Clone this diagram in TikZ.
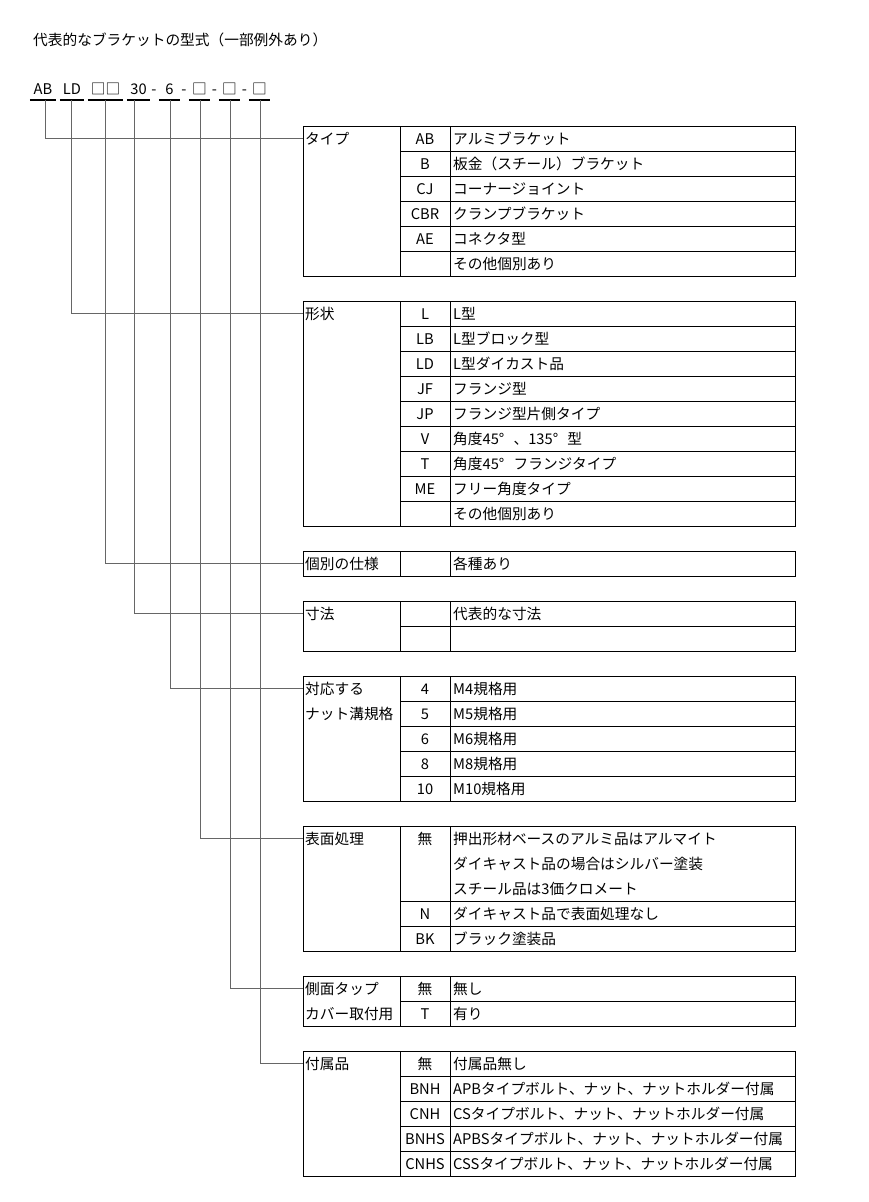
\documentclass[tikz,border=0pt]{standalone}
\usepackage{fontspec}
\setmainfont{Noto Sans CJK JP}
\newcommand{\jpsize}{\fontsize{14.7}{18}\selectfont}
\newcommand{\degw}{\makebox[1em][l]{°}}
\tikzset{
  tbl/.style={line width=1pt},
  conn/.style={draw=black!60, line width=1pt},
  uline/.style={line width=2pt},
  cellbase/.style={inner ysep=0pt, text height=13pt, text depth=2pt, font=\jpsize},
  headcell/.style={cellbase, anchor=west, inner xsep=2pt},
  codecell/.style={cellbase, anchor=center, inner xsep=0pt},
  desccell/.style={cellbase, anchor=west, inner xsep=3pt},
  codepart/.style={cellbase, inner xsep=0pt, inner ysep=4pt}
}
%% outer box, the two column rules and the header node of one table
\newcommand{\tablebox}[4]{% name, top, rows, header
  \draw[tbl] (303,#2) rectangle (795,#2+25*#3);
  \draw[tbl] (400,#2) -- (400,#2+25*#3)
             (450,#2) -- (450,#2+25*#3);
  \node[headcell] (#1) at (303,#2+12.5) {#4};
}
%% one row per code/description pair, with a rule above every row but the first
\newcommand{\tablerows}[3]{% name, top, list
  \foreach \kcode/\kdesc [count=\r from 0] in {#3} {
    \node[codecell] (#1c\r) at (425,#2+12.5+25*\r) {\kcode};
    \node[desccell] (#1d\r) at (450,#2+12.5+25*\r) {\kdesc};
    \ifnum\r>0 \draw[tbl] (400,#2+25*\r) -- (795,#2+25*\r); \fi
  }
}
\begin{document}
\begin{tikzpicture}[x=1pt, y=-1pt]
  \useasboundingbox (0,0) rectangle (868,1202);

  \node[anchor=base west, inner sep=0pt, font=\jpsize] (title) at (33,45)
    {代表的なブラケットの型式（一部例外あり）};

  %% the model code, each part underlined
  \node[codepart, minimum width=26pt] (p1) at (43,88.5) {AB};
  \node[codepart, minimum width=24pt] (p2) at (72,88.5) {LD};
  \node[codepart, minimum width=35pt] (p3) at (105.5,88.5) {□□};
  \node[codepart, minimum width=23pt] (p4) at (138.5,88.5) {30};
  \node[codepart, minimum width=21pt] (p5) at (169.5,88.5) {6};
  \node[codepart, minimum width=21pt] (p6) at (199.5,88.5) {□};
  \node[codepart, minimum width=21pt] (p7) at (229.5,88.5) {□};
  \node[codepart, minimum width=21pt] (p8) at (259.5,88.5) {□};
  \node[codecell] (m1) at (154,88.5) {-};
  \node[codecell] (m2) at (184,88.5) {-};
  \node[codecell] (m3) at (214.5,88.5) {-};
  \node[codecell] (m4) at (244.5,88.5) {-};
  \foreach \n in {1,...,8}
    \draw[uline] (p\n.south west) -- (p\n.south east);

  \coordinate (d1) at ([xshift=2.7pt]p1.south);
  \coordinate (d2) at ([xshift=-1pt]p2.south);
  \coordinate (d3) at (p3.south);
  \coordinate (d4) at ([xshift=-4.2pt]p4.south);
  \coordinate (d5) at ([xshift=0.8pt]p5.south);
  \coordinate (d6) at ([xshift=0.8pt]p6.south);
  \coordinate (d7) at ([xshift=0.8pt]p7.south);
  \coordinate (d8) at ([xshift=0.5pt]p8.south);

  %% tables
  \tablebox{tType}{126}{6}{タイプ}
  \tablerows{tType}{126}{AB/アルミブラケット, B/板金（スチール）ブラケット,
    CJ/コーナージョイント, CBR/クランプブラケット, AE/コネクタ型, {}/その他個別あり}

  \tablebox{tShape}{301}{9}{形状}
  \tablerows{tShape}{301}{L/L型, LB/L型ブロック型, LD/L型ダイカスト品, JF/フランジ型,
    JP/フランジ型片側タイプ, V/角度45\degw、135\degw 型, T/角度45\degw フランジタイプ,
    ME/フリー角度タイプ, {}/その他個別あり}

  \tablebox{tSpec}{551}{1}{個別の仕様}
  \tablerows{tSpec}{551}{{}/各種あり}

  \tablebox{tSize}{601}{2}{寸法}
  \tablerows{tSize}{601}{{}/代表的な寸法, {}/{}}

  \tablebox{tNut}{676}{5}{対応する}
  \node[headcell] (tNut2) at (303,676+37.5) {ナット溝規格};
  \tablerows{tNut}{676}{4/M4規格用, 5/M5規格用, 6/M6規格用, 8/M8規格用, 10/M10規格用}

  \tablebox{tSurf}{826}{5}{表面処理}
  \node[codecell] (tSurfc0) at (425,838.5) {無};
  \node[desccell] (tSurfd0) at (450,838.5) {押出形材ベースのアルミ品はアルマイト};
  \node[desccell] (tSurfd1) at (450,863.5) {ダイキャスト品の場合はシルバー塗装};
  \node[desccell] (tSurfd2) at (450,888.5) {スチール品は3価クロメート};
  \draw[tbl] (400,901) -- (795,901) (400,926) -- (795,926);
  \node[codecell] (tSurfc3) at (425,913.5) {N};
  \node[desccell] (tSurfd3) at (450,913.5) {ダイキャスト品で表面処理なし};
  \node[codecell] (tSurfc4) at (425,938.5) {BK};
  \node[desccell] (tSurfd4) at (450,938.5) {ブラック塗装品};

  \tablebox{tSide}{976}{2}{側面タップ}
  \node[headcell] (tSide2) at (303,976+37.5) {カバー取付用};
  \tablerows{tSide}{976}{無/無し, T/有り}

  \tablebox{tAcc}{1051}{5}{付属品}
  \tablerows{tAcc}{1051}{無/付属品無し, BNH/APBタイプボルト、ナット、ナットホルダー付属,
    CNH/CSタイプボルト、ナット、ナットホルダー付属,
    BNHS/APBSタイプボルト、ナット、ナットホルダー付属,
    CNHS/CSSタイプボルト、ナット、ナットホルダー付属}

  %% connectors from each code part to its table
  \draw[conn] (d1) |- (tType.west);
  \draw[conn] (d2) |- (tShape.west);
  \draw[conn] (d3) |- (tSpec.west);
  \draw[conn] (d4) |- (tSize.west);
  \draw[conn] (d5) |- (tNut.west);
  \draw[conn] (d6) |- (tSurf.west);
  \draw[conn] (d7) |- (tSide.west);
  \draw[conn] (d8) |- (tAcc.west);
\end{tikzpicture}
\end{document}
